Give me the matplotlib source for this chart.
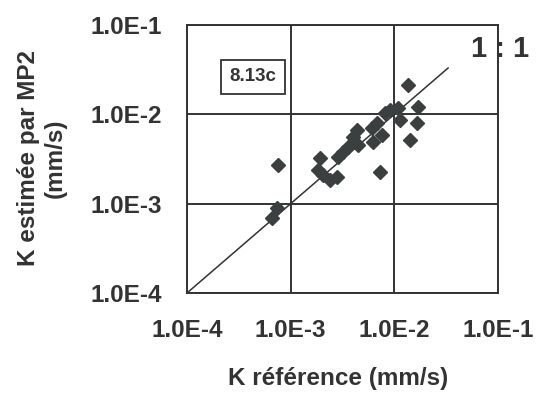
import numpy as np
from matplotlib import pyplot as plt

# K reference vs K estimated by MP2 (mm/s)
k_ref = [0.0135, 0.0169, 0.0165, 0.0141, 0.00726, 0.0108, 0.0091, 0.0081,
         0.0113, 0.0068, 0.0061, 0.0076, 0.0062, 0.00436, 0.00399, 0.00446,
         0.00357, 0.00319, 0.00286, 0.00192, 0.00183, 0.00205, 0.00280,
         0.00239, 0.00076, 0.00074, 0.00066]
k_mp2 = [0.0213, 0.0121, 0.0080, 0.0052, 0.00226, 0.0118, 0.0112, 0.0104,
         0.0087, 0.0080, 0.0070, 0.0059, 0.0049, 0.00668, 0.00558, 0.00454,
         0.00431, 0.00379, 0.00333, 0.00325, 0.00238, 0.00209, 0.00199,
         0.00184, 0.0027, 0.000895, 0.00069]
line_11 = [1e-4, 0.033]
ticks = [1e-4, 1e-3, 1e-2, 1e-1]
tick_labels = ['1.0E-4', '1.0E-3', '1.0E-2', '1.0E-1']

ink = '#333333'
plt.rcParams['font.family'] = ['Liberation Sans', 'DejaVu Sans']
plt.rcParams['font.weight'] = 'bold'

fig = plt.figure(figsize=(5.43, 3.96), dpi=100)
ax = fig.add_axes([187/543, 1-293/396, (498-187)/543, (293-25)/396])

ax.set_xscale('log')
ax.set_yscale('log')
ax.set_xlim(1e-4, 1e-1)
ax.set_ylim(1e-4, 1e-1)

ax.plot(line_11, line_11, color=ink, lw=1.1, zorder=2)
ax.plot(k_ref, k_mp2, linestyle='none', marker='D', markersize=7.5,
        color='#3c3f40', zorder=3)

ax.grid(True, which='major', color=ink, lw=1.4)
ax.minorticks_off()
ax.set_xticks(ticks)
ax.set_xticklabels(tick_labels)
ax.set_yticks(ticks)
ax.set_yticklabels(tick_labels)
ax.tick_params(length=0, labelsize=17.5, colors=ink)
ax.tick_params(axis='x', pad=19)
ax.tick_params(axis='y', pad=18)
for s in ax.spines.values():
    s.set_color(ink)
    s.set_linewidth(1.4)

ax.text(0.213, 0.806, '8.13c', transform=ax.transAxes, fontsize=13.5,
        color=ink, ha='center', va='center',
        bbox=dict(boxstyle='square,pad=0.45', fc='white', ec=ink, lw=1.3))

fig.text(500/543, 1-49/396, '1 : 1', fontsize=21, color=ink,
         ha='center', va='center')
fig.text(338/543, 1-379/396, 'K référence (mm/s)', fontsize=17.5, color=ink,
         ha='center', va='center')
fig.text(42/543, 1-158/396, 'K estimée par MP2\n(mm/s)', fontsize=17.5,
         color=ink, ha='center', va='center', rotation=90, linespacing=1.25)

fig.savefig('out.png', dpi=100)
